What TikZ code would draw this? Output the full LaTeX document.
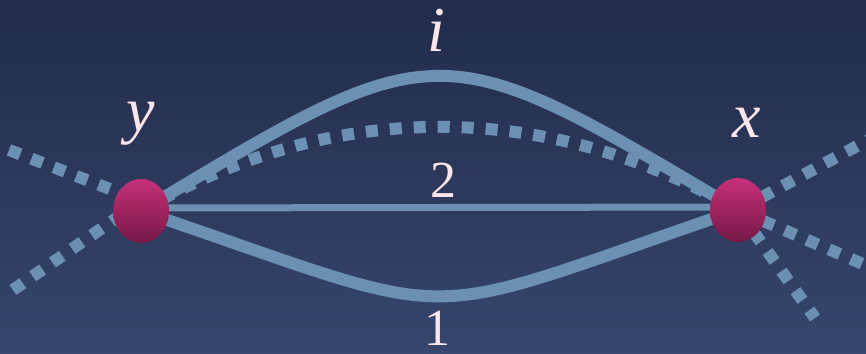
\documentclass[tikz,border=0pt]{standalone}
\usepackage{fontspec}
\setmainfont{Liberation Serif}
\usetikzlibrary{shapes.geometric}
\pgfdeclarelayer{bg}
\pgfdeclarelayer{edges}
\pgfsetlayers{bg,edges,main}
\definecolor{bgtop}{HTML}{222B4A}
\definecolor{bgbot}{HTML}{36466C}
\definecolor{edgec}{HTML}{6B90B2}
\definecolor{nodetop}{HTML}{C8307A}
\definecolor{nodebot}{HTML}{741846}
\definecolor{txt}{HTML}{FCE6EA}
\tikzset{
  vertex/.style={ellipse, minimum width=56pt, minimum height=64pt, inner sep=0pt,
    top color=nodetop, bottom color=nodebot, draw=none},
  solidedge/.style={draw=edgec, line width=12pt},
  thinedge/.style={draw=edgec, line width=7pt},
  dotedge/.style={draw=edgec, line width=12pt, dash pattern=on 12pt off 12pt},
  letterlab/.style={text=txt, anchor=base, inner sep=0pt, font=\fontsize{64}{64}\selectfont\itshape},
  digitlab/.style={text=txt, anchor=base, inner sep=0pt, font=\fontsize{52}{52}\selectfont},
}
\begin{document}
\begin{tikzpicture}[x=1pt,y=-1pt]
\begin{pgfonlayer}{bg}
  \shade[top color=bgtop, bottom color=bgbot] (0,0) rectangle (866,353);
\end{pgfonlayer}
\useasboundingbox (0,0) rectangle (866,353);

\node[vertex] (y) at (141,211) {};
\node[vertex] (x) at (738,210) {};

\coordinate (l1) at (9,150);
\coordinate (l2) at (13,290);
\coordinate (r1) at (872,138);
\coordinate (r2) at (872,268);
\coordinate (r3) at (815,318);

\begin{pgfonlayer}{edges}
  \draw[dotedge] (l1) -- ([yshift=10pt]y.center);
  \draw[dotedge] (l2) -- ([yshift=10pt]y.center);
  \draw[dotedge, dash phase=-3pt] (x.center) -- (r1);
  \draw[dotedge, dash phase=-3pt] (x.center) -- (r2);
  \draw[dotedge, dash phase=-3pt] (x.center) -- (r3);
  \draw[dotedge] (y.center) .. controls (333,99) and (545,99) .. (x.center);
  \draw[solidedge] (y.center) .. controls (440,31) and (438,31) .. (x.center);
  \draw[solidedge] (y.center) .. controls (477,325) and (401,325) .. (x.center);
  \draw[thinedge] ([yshift=3pt]y.center) -- ([yshift=3pt]x.center);
\end{pgfonlayer}

\node[letterlab] (li) at (436,52) {i};
\node[letterlab] (ly) at (141,131) {y};
\node[letterlab] (lx) at (747,137) {x};
\node[digitlab] (l2lab) at (443,197) {2};
\node[digitlab] (l1lab) at (437,345) {1};
\end{tikzpicture}
\end{document}
